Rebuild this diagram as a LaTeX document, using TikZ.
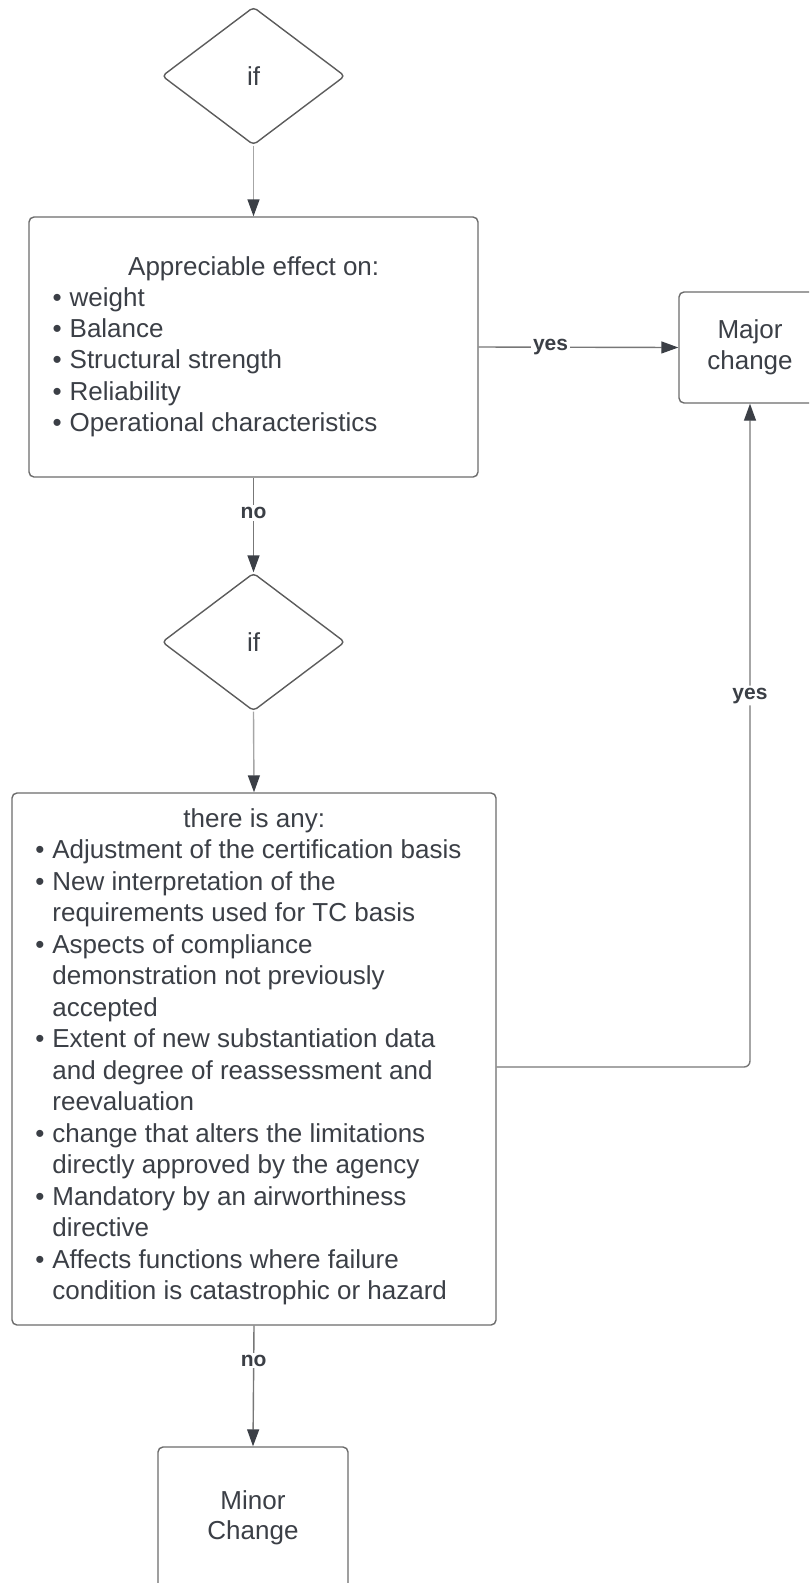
\documentclass[tikz,border=0pt]{standalone}
\usepackage{fontspec}
\setmainfont{Liberation Sans}
\usetikzlibrary{shapes.geometric,arrows.meta}

\definecolor{ink}{HTML}{3B3F46}
\definecolor{frame}{HTML}{6C6C6C}
\definecolor{wire}{HTML}{777777}
\definecolor{wirelight}{HTML}{A6A6A6}

% bullet line and continuation line for the lists
\newcommand{\bul}[1]{\makebox[17pt][l]{•}#1\par}
\newcommand{\cont}[1]{\hspace*{17pt}#1\par}

\begin{document}
\begin{tikzpicture}[x=1pt,y=-1pt,
  box/.style={draw=frame, line width=1.4pt, rounded corners=5pt, fill=white,
    inner sep=0pt, text=ink, font=\fontsize{26}{30.5}\selectfont, align=center},
  decision/.style={diamond, draw=frame!85!black, line width=1.4pt, rounded corners=4pt,
    inner sep=0pt, minimum width=183pt, minimum height=138pt, text=ink,
    font=\fontsize{26}{30}\selectfont},
  flow/.style={draw=wire, line width=1.4pt,
    -{Triangle[length=17pt,width=12pt,color=ink]}},
  lbl/.style={fill=white, inner sep=2pt, text=ink,
    font=\bfseries\fontsize{21}{24}\selectfont},
  listtext/.style={anchor=base west, inner sep=0pt, text=ink}
]
\useasboundingbox (0,0) rectangle (809,1583);
\clip (0,0) rectangle (809,1583);

% decisions and boxes
\node[decision] (d1) at (253.5,76) {if};
\node[box, minimum width=449pt, minimum height=260pt] (b1) at (253.5,347) {};
\node[listtext] (t1) at (29,275) {\parbox[t]{449pt}{\fontsize{26}{31.3}\selectfont
  {\centering Appreciable effect on:\par}
  \raggedright\leftskip=23.5pt
  \bul{weight}
  \bul{Balance}
  \bul{Structural strength}
  \bul{Reliability}
  \bul{Operational characteristics}}};

\node[box, minimum width=142pt, minimum height=111pt] (major) at (750,347.5) {Major\\change};

\node[decision] (d2) at (253.5,642) {if};

\node[box, minimum width=484pt, minimum height=532pt] (b2) at (254,1059) {};
\node[listtext] (t2) at (12,827) {\parbox[t]{484pt}{\fontsize{26}{31.5}\selectfont
  {\centering there is any:\par}
  \raggedright\leftskip=23.2pt
  \bul{Adjustment of the certification basis}
  \bul{New interpretation of the}
  \cont{requirements used for TC basis}
  \bul{Aspects of compliance}
  \cont{demonstration not previously}
  \cont{accepted}
  \bul{Extent of new substantiation data}
  \cont{and degree of reassessment and}
  \cont{reevaluation}
  \bul{change that alters the limitations}
  \cont{directly approved by the agency}
  \bul{Mandatory by an airworthiness}
  \cont{directive}
  \bul{Affects functions where failure}
  \cont{condition is catastrophic or hazard}}};

\node[box, minimum width=190pt, minimum height=142pt] (minor) at (253,1518) {Minor\\Change};

% connectors
\draw[flow, draw=wirelight] (d1.south) -- (b1.north);
\draw[flow] (b1.south) -- node[lbl, pos=0.375] {no} (d2.north);
\draw[flow] (b1.east) -- node[lbl, pos=0.36] {yes} (major.west);
\draw[flow, draw=wirelight] (d2.south) -- (b2.north);
\draw[flow] (b2.south) -- node[lbl, pos=0.29] {no} (minor.north);
\draw[flow, rounded corners=6pt] ([yshift=-8pt]b2.east) -| node[lbl, pos=0.78] {yes} (major.south);
\end{tikzpicture}
\end{document}
